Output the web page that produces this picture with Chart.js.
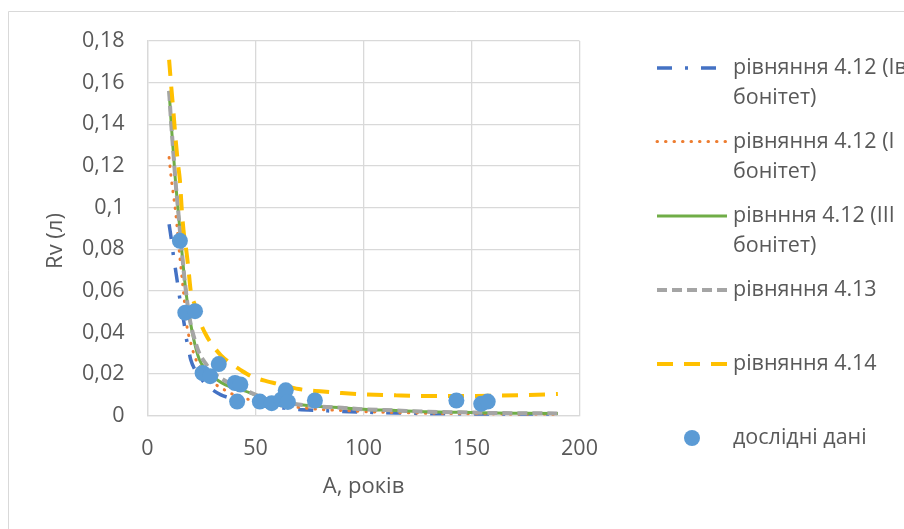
<!DOCTYPE html>
<html>
<head>
<meta charset="utf-8">
<script src="https://cdn.jsdelivr.net/npm/chart.js@4.4.1/dist/chart.umd.min.js"></script>
<style>
  html, body { margin: 0; padding: 0; background: #ffffff; }
  #wrap { width: 904px; height: 529px; }
</style>
</head>
<body>
<div id="wrap"><canvas id="c" width="904" height="529"></canvas></div>
<script>
// Age grid (years) on which the model curves are tabulated
const ageGrid = [10, 11, 12, 13, 14, 15, 16, 17, 18, 19, 20, 22, 24, 27, 30, 34, 38, 43, 48, 55, 60, 70, 80, 90, 100, 115, 130, 145, 160, 175, 190];

// Equation 4.12, site class Iв
const rvIV = [0.092, 0.085, 0.077, 0.070, 0.063, 0.056, 0.050, 0.044, 0.037, 0.032, 0.027, 0.022, 0.019, 0.015, 0.0125, 0.010, 0.0085, 0.0066, 0.0055, 0.0045, 0.004, 0.003, 0.0025, 0.002, 0.0017, 0.0013, 0.001, 0.0008, 0.0007, 0.0006, 0.0005];
// Equation 4.12, site class I
const rvI = [0.124, 0.114, 0.106, 0.098, 0.087, 0.076, 0.066, 0.056, 0.045, 0.039, 0.035, 0.028, 0.024, 0.019, 0.016, 0.0135, 0.011, 0.009, 0.0075, 0.006, 0.005, 0.004, 0.003, 0.0025, 0.002, 0.0015, 0.0012, 0.001, 0.0008, 0.0007, 0.0006];
// Equation 4.12, site class III
const rvIII = [0.156, 0.140, 0.126, 0.112, 0.101, 0.089, 0.078, 0.067, 0.058, 0.050, 0.044, 0.034, 0.027, 0.022, 0.019, 0.016, 0.014, 0.0125, 0.0108, 0.008, 0.0068, 0.0054, 0.0044, 0.0038, 0.0031, 0.0025, 0.0019, 0.0016, 0.0013, 0.0012, 0.0011];
// Equation 4.13
const rv413 = [0.156, 0.140, 0.126, 0.112, 0.101, 0.089, 0.078, 0.067, 0.058, 0.050, 0.044, 0.036, 0.030, 0.025, 0.021, 0.018, 0.0155, 0.013, 0.011, 0.008, 0.0068, 0.0054, 0.0044, 0.0038, 0.0031, 0.0025, 0.0019, 0.0016, 0.0013, 0.0012, 0.0011];
// Equation 4.14
const rv414 = [0.171, 0.158, 0.146, 0.133, 0.122, 0.113, 0.097, 0.086, 0.079, 0.070, 0.060, 0.053, 0.046, 0.039, 0.034, 0.029, 0.0255, 0.022, 0.019, 0.0166, 0.0154, 0.0128, 0.0117, 0.0109, 0.0103, 0.0098, 0.0095, 0.0095, 0.0096, 0.0099, 0.0104];

// Field measurements
const obsAge = [15, 17.5, 22, 25.5, 29, 33, 40.5, 43, 41.5, 52, 57.5, 62, 64, 65, 77.5, 143, 154.5, 157.5];
const obsRv = [0.084, 0.0495, 0.0502, 0.0205, 0.019, 0.0248, 0.0157, 0.0150, 0.0068, 0.0068, 0.006, 0.0078, 0.0122, 0.0066, 0.0073, 0.0073, 0.0057, 0.0068];

// Axis ticks
const xTickValues = [0, 50, 100, 150, 200];
const xTickLabels = ['0', '50', '100', '150', '200'];
const yTickValues = [0, 0.02, 0.04, 0.06, 0.08, 0.1, 0.12, 0.14, 0.16, 0.18];
const yTickLabels = ['0', '0,02', '0,04', '0,06', '0,08', '0,1', '0,12', '0,14', '0,16', '0,18'];

// Axis titles
const xTitle = 'А, років';
const yTitle = 'Rv (л)';

// Legend captions (wrapped as they appear)
const legendLabels = [
  ['рівняння 4.12 (Ів', 'бонітет)'],
  ['рівняння 4.12 (І', 'бонітет)'],
  ['рівнння 4.12 (ІІІ', 'бонітет)'],
  ['рівняння 4.13'],
  ['рівняння 4.14'],
  ['дослідні дані']
];

const FONT = '"Open Sans", "Noto Sans", sans-serif';
const TEXT = '#595959';
const GRID = '#d9d9d9';
const LABEL_SIZE = 21.5;
const TITLE_SIZE = 22;

const pts = (xs, ys) => xs.map((x, i) => ({ x: x, y: ys[i] }));

const curve = (label, ys, color, width, dash, cap, order) => ({
  label: label,
  data: pts(ageGrid, ys),
  showLine: true,
  borderColor: color,
  backgroundColor: color,
  borderWidth: width,
  borderDash: dash,
  borderCapStyle: cap,
  pointRadius: 0,
  pointHoverRadius: 0,
  cubicInterpolationMode: 'monotone',
  order: order
});

const datasets = [
  curve(legendLabels[0].join(' '), rvIV, '#4472C4', 3.5, [15, 13, 3, 13], 'butt', 5),
  curve(legendLabels[1].join(' '), rvI, '#ED7D31', 3, [0.5, 8], 'round', 4),
  curve(legendLabels[2].join(' '), rvIII, '#70AD47', 3, [], 'butt', 3),
  curve(legendLabels[3].join(' '), rv413, '#A5A5A5', 4, [10, 5], 'butt', 2),
  curve(legendLabels[4].join(' '), rv414, '#FFC000', 4, [16, 11], 'butt', 1),
  {
    label: legendLabels[5].join(' '),
    data: pts(obsAge, obsRv),
    showLine: false,
    pointRadius: 8,
    pointHoverRadius: 8,
    pointBorderWidth: 0,
    backgroundColor: '#5B9BD5',
    borderColor: '#5B9BD5',
    order: 0
  }
];

// Outer frame of the chart object and the vertical axis title
const framePlugin = {
  id: 'frame',
  beforeDraw(chart) {
    const ctx = chart.ctx;
    ctx.save();
    ctx.fillStyle = '#ffffff';
    ctx.fillRect(0, 0, chart.width, chart.height);
    ctx.strokeStyle = GRID;
    ctx.lineWidth = 1;
    ctx.beginPath();
    ctx.moveTo(8.5, chart.height);
    ctx.lineTo(8.5, 11.5);
    ctx.lineTo(chart.width, 11.5);
    ctx.stroke();
    ctx.restore();
  },
  afterDraw(chart) {
    const ctx = chart.ctx;
    ctx.save();
    ctx.translate(56, 241);
    ctx.rotate(-Math.PI / 2);
    ctx.fillStyle = TEXT;
    ctx.font = TITLE_SIZE + 'px ' + FONT;
    ctx.textAlign = 'center';
    ctx.textBaseline = 'middle';
    ctx.fillText(yTitle, 0, 0);
    ctx.restore();
  }
};

// Legend on the right with wrapped captions and line samples
const legendPlugin = {
  id: 'sideLegend',
  afterDraw(chart) {
    const ctx = chart.ctx;
    const rowsY = [68, 141.5, 216, 290, 364, 438];
    const x0 = 657, x1 = 727, tx = 733, lineGap = 30;
    ctx.save();
    datasets.forEach((ds, i) => {
      const y = rowsY[i];
      if (ds.showLine) {
        ctx.strokeStyle = ds.borderColor;
        ctx.lineWidth = ds.borderWidth;
        ctx.setLineDash(ds.borderDash);
        ctx.lineCap = ds.borderCapStyle;
        ctx.beginPath();
        ctx.moveTo(x0, y);
        ctx.lineTo(x1, y);
        ctx.stroke();
        ctx.setLineDash([]);
      } else {
        ctx.fillStyle = ds.backgroundColor;
        ctx.beginPath();
        ctx.arc(692, y, 8, 0, Math.PI * 2);
        ctx.fill();
      }
      ctx.fillStyle = TEXT;
      ctx.font = LABEL_SIZE + 'px ' + FONT;
      ctx.textAlign = 'left';
      ctx.textBaseline = 'middle';
      legendLabels[i].forEach((t, k) => ctx.fillText(t, tx, y + k * lineGap));
    });
    ctx.restore();
  }
};

new Chart(document.getElementById('c'), {
  type: 'scatter',
  data: { datasets: datasets },
  plugins: [framePlugin, legendPlugin],
  options: {
    responsive: false,
    animation: false,
    devicePixelRatio: 1,
    layout: { padding: { top: 41, right: 324.5, bottom: 0, left: 0 } },
    plugins: { legend: { display: false }, tooltip: { enabled: false } },
    scales: {
      x: {
        type: 'linear',
        min: 0,
        max: 200,
        afterBuildTicks: (s) => { s.ticks = xTickValues.map(v => ({ value: v })); },
        afterFit: (s) => { s.height = 113.3; },
        grid: { color: GRID, lineWidth: 1.3, drawTicks: false },
        border: { color: GRID, width: 1.3 },
        ticks: {
          color: TEXT,
          font: { family: FONT, size: LABEL_SIZE },
          padding: 20,
          maxRotation: 0,
          callback: (v, i) => xTickLabels[i]
        },
        title: {
          display: true,
          text: xTitle,
          color: TEXT,
          font: { family: FONT, size: TITLE_SIZE },
          padding: { top: 0, bottom: 29 }
        }
      },
      y: {
        type: 'linear',
        min: 0,
        max: 0.18,
        afterBuildTicks: (s) => { s.ticks = yTickValues.map(v => ({ value: v })); },
        afterFit: (s) => { s.width = 147.5; },
        grid: { color: GRID, lineWidth: 1.3, drawTicks: false },
        border: { color: GRID, width: 1.3 },
        ticks: {
          color: TEXT,
          font: { family: FONT, size: LABEL_SIZE },
          padding: 23,
          callback: (v, i) => yTickLabels[i]
        }
      }
    }
  }
});
</script>
</body>
</html>
